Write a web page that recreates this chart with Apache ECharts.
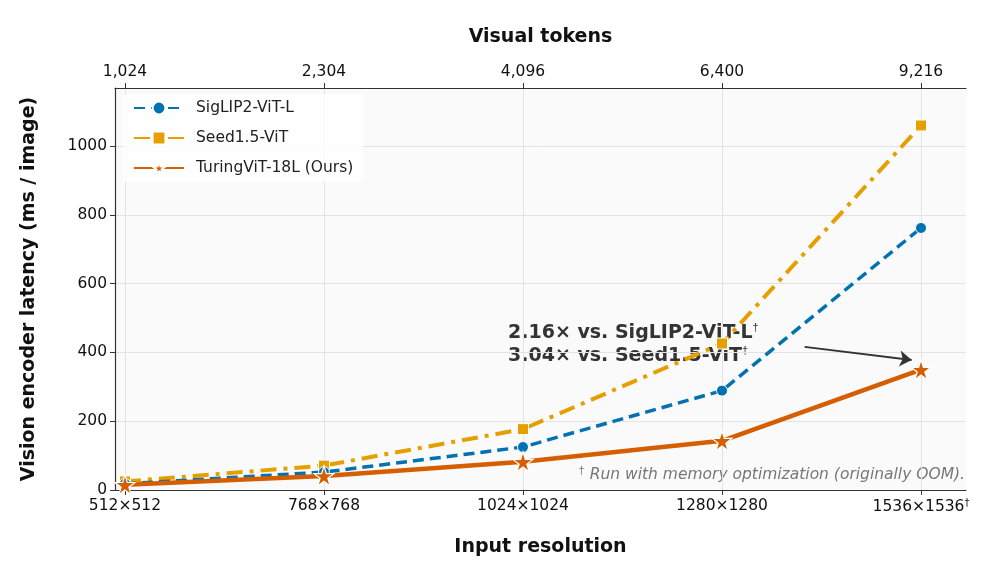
<!DOCTYPE html>
<html>
<head>
    <meta charset="utf-8" />
    <title>Vision encoder latency</title>
    <script src="https://cdn.jsdelivr.net/npm/echarts@6/dist/echarts.min.js"></script>
    <style>
        html, body { margin: 0; padding: 0; background: #fff; }
        #main { width: 1000px; height: 562px; }
    </style>
</head>
<body>
    <div id="main"></div>
<script>
    // 数据
    var resolutions = ['512×512', '768×768', '1024×1024', '1280×1280', '1536×1536'];
    var visualTokens = ['1,024', '2,304', '4,096', '6,400', '9,216'];
    var siglipLatency = [18, 52, 125, 289, 762];
    var seedLatency = [25, 71, 177, 426, 1060];
    var turingLatency = [15, 41, 82, 143, 350];
    var yTicks = [0, 200, 400, 600, 800, 1000];

    var FONT = 'DejaVu Sans';
    var xPos = resolutions.map(function (r, i) { return i; });

    function pairs(values) {
        return values.map(function (v, i) { return [i, v]; });
    }

    var myChart = echarts.init(document.getElementById('main'));

    var xBase = {
        type: 'value',
        min: -0.05,
        max: 4.226,
        splitNumber: 4,
        nameLocation: 'middle',
        nameTextStyle: { fontFamily: FONT, fontSize: 19, fontWeight: 'bold', color: '#111' },
        axisLine: { show: true, onZero: false, lineStyle: { color: '#333', width: 1.2 } },
        axisTick: { show: true, inside: false, length: 5, customValues: xPos, lineStyle: { color: '#333' } },
        splitLine: { show: true, lineStyle: { color: '#e3e3e3', width: 1 } }
    };

    var option = {
        animation: false,
        textStyle: { fontFamily: FONT },
        grid: {
            left: 115, right: 34, top: 88, bottom: 72,
            show: true, backgroundColor: '#fafafa', borderWidth: 0
        },
        legend: {
            left: 123, top: 94,
            orient: 'vertical',
            itemGap: 14,
            itemWidth: 50,
            itemHeight: 16,
            padding: [6, 10, 6, 10],
            backgroundColor: 'rgba(255,255,255,0.8)',
            borderWidth: 0,
            textStyle: { fontFamily: FONT, fontSize: 15.5, color: '#222', padding: [0, 0, 0, 7] },
            data: ['SigLIP2-ViT-L', 'Seed1.5-ViT', 'TuringViT-18L (Ours)']
        },
        xAxis: [
            Object.assign({}, xBase, {
                position: 'bottom',
                name: 'Input resolution',
                nameGap: 48,
                axisLabel: {
                    customValues: xPos,
                    fontFamily: FONT, fontSize: 15.5, color: '#111', margin: 8,
                    formatter: function (v) {
                        var i = Math.round(v);
                        return i === 4 ? resolutions[i] + '{sup|†}' : resolutions[i];
                    },
                    rich: { sup: { fontSize: 10, verticalAlign: 'top', color: '#111', padding: [0, 0, 8, 0] } }
                }
            }),
            Object.assign({}, xBase, {
                position: 'top',
                name: 'Visual tokens',
                nameGap: 41,
                splitLine: { show: false },
                axisLabel: {
                    customValues: xPos,
                    fontFamily: FONT, fontSize: 15.5, color: '#111', margin: 8,
                    formatter: function (v) { return visualTokens[Math.round(v)]; }
                }
            })
        ],
        yAxis: {
            type: 'value',
            min: 0,
            max: 1169,
            name: 'Vision encoder latency (ms / image)',
            nameLocation: 'middle',
            nameGap: 76,
            nameTextStyle: { fontFamily: FONT, fontSize: 19, fontWeight: 'bold', color: '#111' },
            axisLine: { show: true, onZero: false, lineStyle: { color: '#333', width: 1.2 } },
            axisTick: { show: true, length: 5, customValues: yTicks, lineStyle: { color: '#333' } },
            axisLabel: {
                customValues: yTicks, fontFamily: FONT, fontSize: 15.5, color: '#111', margin: 8,
                formatter: function (v) { return String(v); }
            },
            splitLine: { show: true, lineStyle: { color: '#e3e3e3', width: 1 } }
        },
        series: [
            {
                name: 'SigLIP2-ViT-L',
                type: 'line',
                data: pairs(siglipLatency),
                symbol: 'circle',
                symbolSize: 11,
                z: 3,
                itemStyle: { color: '#0072B2', borderColor: '#fff', borderWidth: 1 },
                lineStyle: { color: '#0072B2', width: 3.5, type: [11, 6] }
            },
            {
                name: 'Seed1.5-ViT',
                type: 'line',
                data: pairs(seedLatency),
                symbol: 'rect',
                symbolSize: 11,
                z: 2,
                itemStyle: { color: '#E69F00', borderColor: '#fff', borderWidth: 1 },
                lineStyle: { color: '#E69F00', width: 4, type: [16, 7, 4, 7] }
            },
            {
                name: 'TuringViT-18L (Ours)',
                type: 'line',
                data: pairs(turingLatency),
                symbol: 'path://M50,0 L61.8,35.4 L100,35.4 L69.1,57.3 L80.9,92.7 L50,70.8 L19.1,92.7 L30.9,57.3 L0,35.4 L38.2,35.4 Z',
                symbolSize: 20,
                z: 4,
                itemStyle: { color: '#D55E00', borderColor: '#fff', borderWidth: 1.2 },
                lineStyle: { color: '#D55E00', width: 4.5 },
                markLine: {
                    silent: true,
                    symbol: ['none', 'arrow'],
                    symbolSize: 12,
                    label: { show: false },
                    lineStyle: { color: '#333', width: 1.8, type: 'solid' },
                    data: [[{ coord: [3.415, 416] }, { coord: [3.953, 378] }]]
                }
            }
        ],
        graphic: [
            {
                type: 'text',
                left: 508, top: 322,
                style: {
                    text: '2.16× vs. SigLIP2-ViT-L{s|†}\n3.04× vs. Seed1.5-ViT{s|†}',
                    font: 'bold 19px "DejaVu Sans"',
                    fill: '#333',
                    lineHeight: 23,
                    rich: { s: { fontSize: 11, fontWeight: 'normal', fill: '#333', verticalAlign: 'top', padding: [0, 0, 10, 0] } }
                }
            },
            {
                type: 'text',
                right: 35, top: 465,
                style: {
                    text: '{s|†} Run with memory optimization (originally OOM).',
                    font: 'italic 15.5px "DejaVu Sans"',
                    fill: '#777',
                    rich: { s: { fontSize: 11, fontStyle: 'normal', fill: '#777', verticalAlign: 'top', padding: [0, 0, 8, 0] } }
                }
            }
        ]
    };

    myChart.setOption(option);
</script>
</body>
</html>
